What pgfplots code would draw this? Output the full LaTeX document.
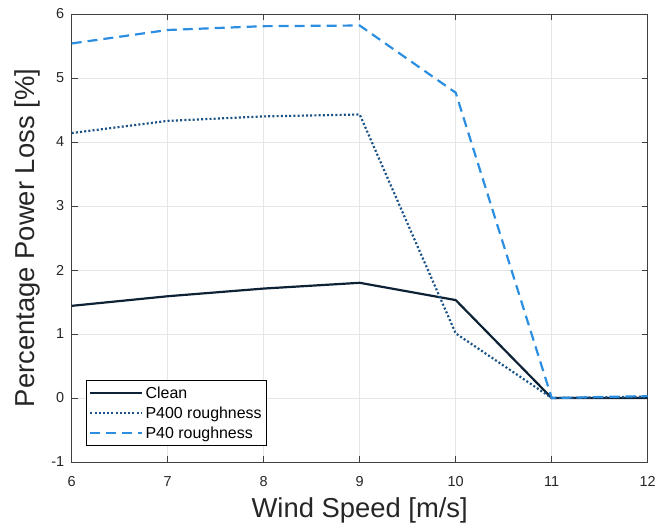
\documentclass[border=0pt]{standalone}
\usepackage{pgfplots}
\pgfplotsset{compat=1.18}
\usepackage{fontspec}
\setmainfont{Liberation Sans}
\definecolor{cclean}{HTML}{0E2236}
\definecolor{cp400}{HTML}{1B5286}
\definecolor{cp40}{HTML}{2B8EE0}
\definecolor{gridc}{HTML}{E6E6E6}
\definecolor{axc}{HTML}{404040}
\begin{document}
\begin{tikzpicture}
\begin{axis}[
  scale only axis,
  width=576bp, height=448bp,
  xmin=6, xmax=12, ymin=-1, ymax=6,
  xtick={6,...,12}, ytick={-1,0,...,6},
  grid=major,
  major grid style={gridc, line width=0.8bp},
  axis line style={axc, line width=0.8bp},
  tick style={axc, line width=0.8bp},
  tick align=inside,
  major tick length=6bp,
  ticklabel style={font=\fontsize{14.5}{16}\selectfont, text=black!85},
  xticklabel style={yshift=-11bp},
  yticklabel style={xshift=-4bp},
  /pgf/number format/assume math mode=true,
  xlabel={Wind Speed [m/s]},
  ylabel={Percentage Power Loss [\%]},
  label style={font=\fontsize{27.5}{30}\selectfont, text=black!85},
  xlabel style={at={(axis description cs:0.5,0)}, anchor=base, yshift=-55bp},
  ylabel style={at={(axis description cs:-0.077,0.5)}, anchor=center},
  legend style={font=\fontsize{16}{19}\selectfont, draw=black, line width=0.6bp,
    at={(0.025,0.036)}, anchor=south west, inner xsep=3bp, inner ysep=4bp, row sep=3bp,
    cells={anchor=west}},
  legend cell align=left,
  legend image code/.code={\draw[#1] (0bp,0bp) -- (52bp,0bp);},
]
\addplot[cclean, line width=2.2bp] coordinates {(6,1.44) (7,1.59) (8,1.71) (9,1.80) (10,1.53) (11,0) (12,0)};
\addlegendentry{Clean}
\addplot[cp400, line width=2.2bp, dash pattern=on 2bp off 2.2bp] coordinates {(6,4.14) (7,4.33) (8,4.40) (9,4.43) (10,1.01) (11,0) (12,0.02)};
\addlegendentry{P400 roughness}
\addplot[cp40, line width=2.2bp, dash pattern=on 10bp off 6bp] coordinates {(6,5.54) (7,5.75) (8,5.81) (9,5.82) (10,4.77) (11,0) (12,0.03)};
\addlegendentry{P40 roughness}
\coordinate (ll) at (rel axis cs:0,0);
\coordinate (ur) at (rel axis cs:1,1);
\end{axis}
\pgfresetboundingbox
\path[use as bounding box] ([xshift=-71.7bp,yshift=-67bp]ll) rectangle ([xshift=20.3bp,yshift=14bp]ur);
\end{tikzpicture}
\end{document}
